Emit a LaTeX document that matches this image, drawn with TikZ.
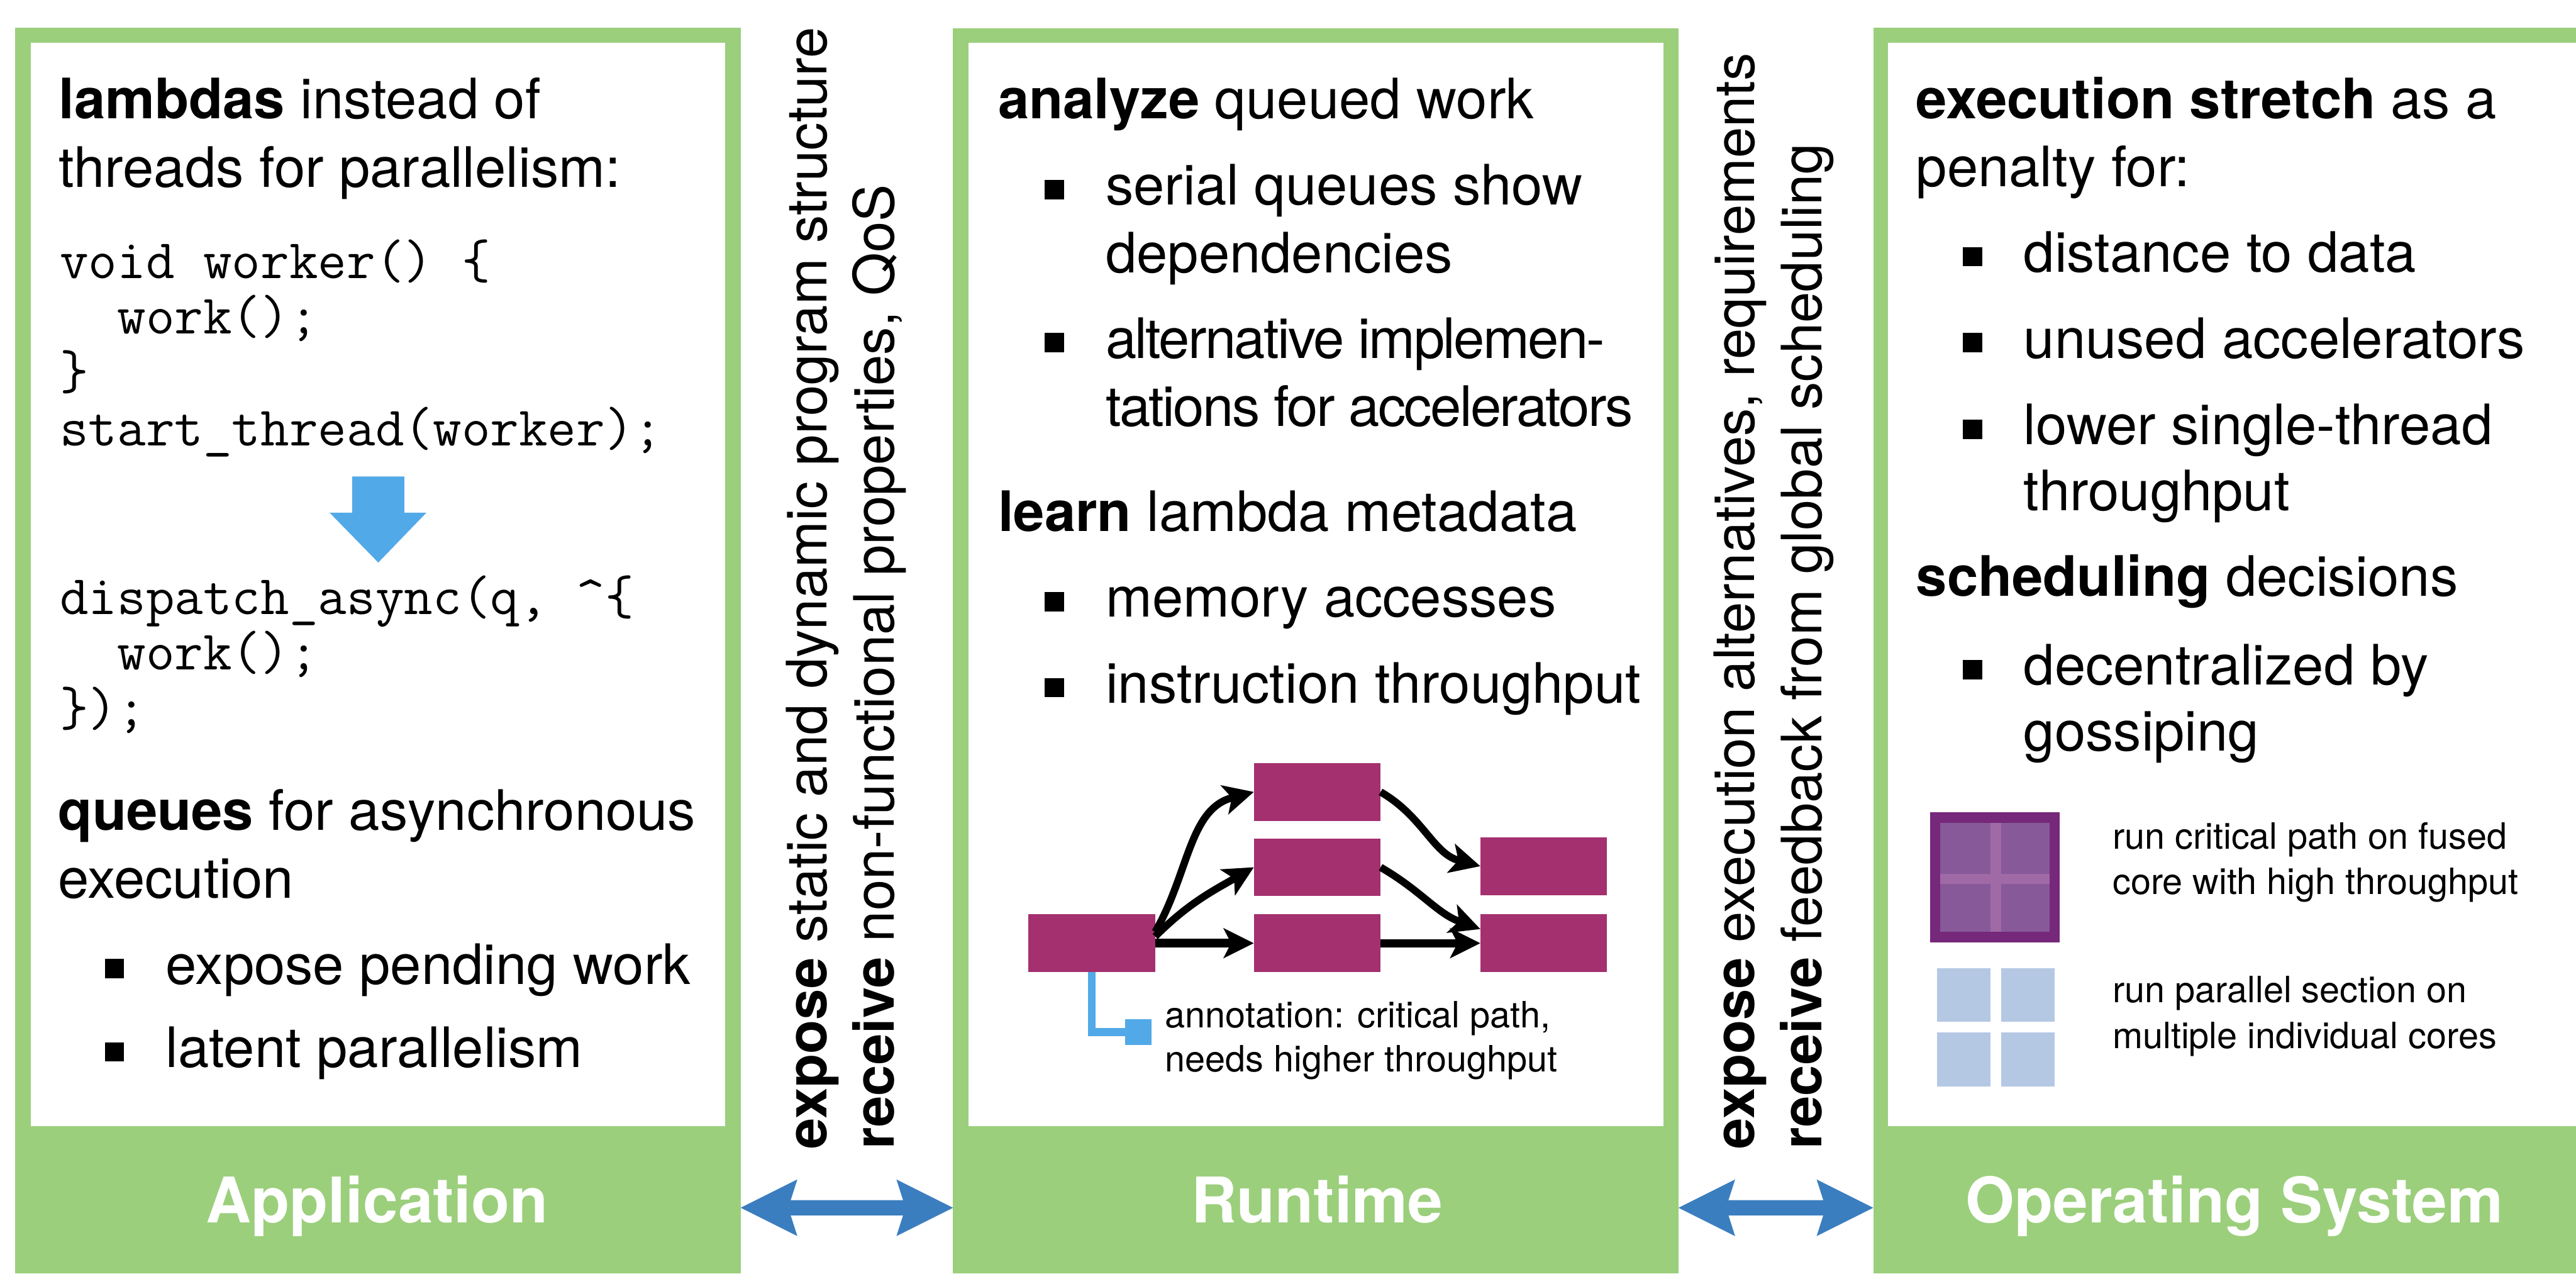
\documentclass[tikz,border=0pt]{standalone}
\usepackage{fontspec}
\setmainfont{TeX Gyre Heros}
\usetikzlibrary{positioning,arrows.meta}
\definecolor{panelgreen}{RGB}{155,207,124}
\definecolor{linkblue}{RGB}{58,126,191}
\definecolor{hintblue}{RGB}{82,169,232}
\definecolor{taskred}{RGB}{164,48,111}
\definecolor{fusedout}{RGB}{118,40,122}
\definecolor{fusedin}{RGB}{135,89,153}
\definecolor{fusedx}{RGB}{160,106,166}
\definecolor{corelight}{RGB}{180,200,228}

\begin{document}
\begin{tikzpicture}[
        panel/.style={
          draw=none,
          fill=panelgreen,
          inner sep=0pt,
          outer sep=0pt,
          anchor=north west
          },
        sheet/.style={
          panel,
          fill=white
          },
        txt/.style={
          anchor=base west,
          inner sep=0pt,
          font=\fontsize{28}{34}\selectfont
          },
        tight/.style={
          txt,
          font=\fontsize{28}{34}\selectfont\addfontfeatures{LetterSpace=-3}
          },
        code/.style={
          txt,
          font=\fontsize{28}{34}\selectfont\ttfamily
          },
        small/.style={
          txt,
          font=\fontsize{18.2}{22}\selectfont
          },
        side/.style={
          txt,
          rotate=90
          },
        lbl/.style={
          anchor=base,
          inner sep=0pt,
          text=white,
          font=\fontsize{31.6}{38}\selectfont\bfseries
          },
        bul/.style={
          fill=black,
          inner sep=0pt,
          minimum size=0.34cm
          },
        task/.style={
          fill=taskred,
          inner sep=0pt,
          outer sep=0pt,
          minimum width=2.24cm,
          minimum height=1.02cm
          },
        dep/.style={
          line width=0.13cm,
          -{Stealth[length=0.54cm,width=0.54cm,inset=0.14cm,line width=0pt]}
          },
        link/.style={
          linkblue,
          line width=0.27cm,
          {Stealth[length=1cm,width=1cm,inset=0.16cm,line width=0pt]}-{Stealth[length=1cm,width=1cm,inset=0.16cm,line width=0pt]}
          }
        ]
        \useasboundingbox (0,0) rectangle (45.49,-22.48);

        % three layers
        \node[panel, minimum width=12.81cm, minimum height=21.99cm] (app) at (0.27,-0.49) {};
        \node[sheet, minimum width=12.27cm, minimum height=19.13cm] (appin) at (0.54,-0.75) {};
        \node[panel, minimum width=12.81cm, minimum height=21.98cm] (rt) at (16.83,-0.50) {};
        \node[sheet, minimum width=12.27cm, minimum height=19.13cm] (rtin) at (17.10,-0.75) {};
        \node[panel, minimum width=12.41cm, minimum height=21.99cm] (os) at (33.08,-0.49) {};
        \node[sheet, minimum width=12.15cm, minimum height=19.13cm] (osin) at (33.34,-0.75) {};

        \node[lbl] (applbl) at (6.66,-21.58) {Application};
        \node[lbl] (rtlbl) at (23.26,-21.58) {Runtime};
        \node[lbl] (oslbl) at (39.46,-21.58) {Operating System};

        \draw[link] ([yshift=1.16cm]app.south east) -- ([yshift=1.16cm]rt.south west);
        \draw[link] ([yshift=1.16cm]rt.south east) -- ([yshift=1.16cm]os.south west);

        \node[side] (up1) at (14.60,-20.29) {\textbf{expose} static and dynamic program structure};
        \node[side] (down1) at (15.79,-20.29) {\textbf{receive} non-functional properties, QoS};
        \node[side] (up2) at (30.98,-20.29) {\textbf{expose} execution alternatives, requirements};
        \node[side] (down2) at (32.17,-20.29) {\textbf{receive} feedback from global scheduling};

        % application
        \node[txt] (lam1) at (1.03,-2.09) {\textbf{lambdas} instead of};
        \node[txt] (lam2) at (1.03,-3.30) {threads for parallelism:};
        \node[code] (old1) at (1.05,-4.91) {void worker() \{};
        \node[code] (old2) at (1.05,-5.89) {\phantom{xx}work();};
        \node[code] (old3) at (1.05,-6.87) {\}};
        \node[code] (old4) at (1.05,-7.87) {start\_thread(worker);};
        \fill[hintblue] (6.22,-8.41) -- (7.14,-8.41) -- (7.14,-9.05) -- (7.53,-9.05)
          -- (6.68,-9.93) -- (5.82,-9.05) -- (6.22,-9.05) -- cycle;
        \node[code] (new1) at (1.05,-10.84) {dispatch\_async(q, \textasciicircum\{};
        \node[code] (new2) at (1.05,-11.82) {\phantom{xx}work();};
        \node[code] (new3) at (1.05,-12.81) {\});};
        \node[txt] (que1) at (1.02,-14.65) {\textbf{queues} for asynchronous};
        \node[txt] (que2) at (1.02,-15.85) {execution};
        \node[txt] (apa) at (2.92,-17.37) {expose pending work};
        \node[txt] (apb) at (2.92,-18.84) {latent parallelism};

        % runtime
        \node[txt] (ana) at (17.62,-2.09) {\textbf{analyze} queued work};
        \node[txt] (rta) at (19.52,-3.62) {serial queues show};
        \node[txt] (rta2) at (19.52,-4.81) {dependencies};
        \node[tight] (rtb) at (19.52,-6.32) {alternative implemen-};
        \node[tight] (rtb2) at (19.52,-7.52) {tations for accelerators};
        \node[txt] (lrn) at (17.62,-9.38) {\textbf{learn} lambda metadata};
        \node[txt] (rtc) at (19.52,-10.89) {memory accesses};
        \node[txt] (rtd) at (19.52,-12.41) {instruction throughput};

        \node[task] (a) at (19.28,-16.65) {};
        \node[task, right=1.74cm of a] (b3) {};
        \node[task, above=0.32cm of b3] (b2) {};
        \node[task, above=0.31cm of b2] (b1) {};
        \node[task, right=1.76cm of b3] (c2) {};
        \node[task, above=0.34cm of c2] (c1) {};
        \draw[dep] ([yshift=0.2cm]a.east) to[out=60, in=195] (b1.west);
        \draw[dep] ([yshift=0.12cm]a.east) to[out=45, in=210] (b2.west);
        \draw[dep, line width=0.15cm] (a.east) -- (b3.west);
        \draw[dep] (b1.east) to[out=-30, in=165] (c1.west);
        \draw[dep] (b2.east) to[out=-30, in=160] ([yshift=0.25cm]c2.west);
        \draw[dep, line width=0.14cm] (b3.east) -- (c2.west);

        \node[fill=hintblue, inner sep=0pt, minimum size=0.46cm] (note) at (20.10,-18.22) {};
        \draw[hintblue, line width=0.14cm] (a.south) |- (note.west);
        \node[small] (ann1) at (20.57,-18.14) {annotation: critical path,};
        \node[small] (ann2) at (20.57,-18.92) {needs higher throughput};

        % operating system
        \node[txt] (str1) at (33.83,-2.09) {\textbf{execution stretch} as a};
        \node[txt] (str2) at (33.83,-3.29) {penalty for:};
        \node[txt] (osa) at (35.73,-4.80) {distance to data};
        \node[txt] (osb) at (35.73,-6.32) {unused accelerators};
        \node[txt] (osc) at (35.73,-7.85) {lower single-thread};
        \node[txt] (osc2) at (35.73,-9.01) {throughput};
        \node[txt] (sch) at (33.83,-10.52) {\textbf{scheduling} decisions};
        \node[txt] (osd) at (35.73,-12.09) {decentralized by};
        \node[txt] (osd2) at (35.73,-13.25) {gossiping};

        \foreach \it in {apa,apb,rta,rtb,rtc,rtd,osa,osb,osc,osd}
          \node[bul] at ([xshift=-0.9cm,yshift=0.27cm]\it.base west) {};

        \fill[fusedout] (34.08,-14.34) rectangle (36.37,-16.64);
        \fill[fusedin] (34.26,-14.53) rectangle (36.19,-16.45);
        \fill[fusedx] (35.15,-14.53) rectangle (35.34,-16.45);
        \fill[fusedx] (34.26,-15.43) rectangle (36.19,-15.60);
        \foreach \x in {34.21,35.34}
          {\foreach \y in {-17.09,-18.23}
            \fill[corelight] (\x,\y) rectangle ++(0.94,-0.95);
          }
        \node[small] (fus1) at (37.30,-14.99) {run critical path on fused};
        \node[small] (fus2) at (37.30,-15.79) {core with high throughput};
        \node[small] (par1) at (37.30,-17.70) {run parallel section on};
        \node[small] (par2) at (37.30,-18.51) {multiple individual cores};
\end{tikzpicture}
\end{document}
